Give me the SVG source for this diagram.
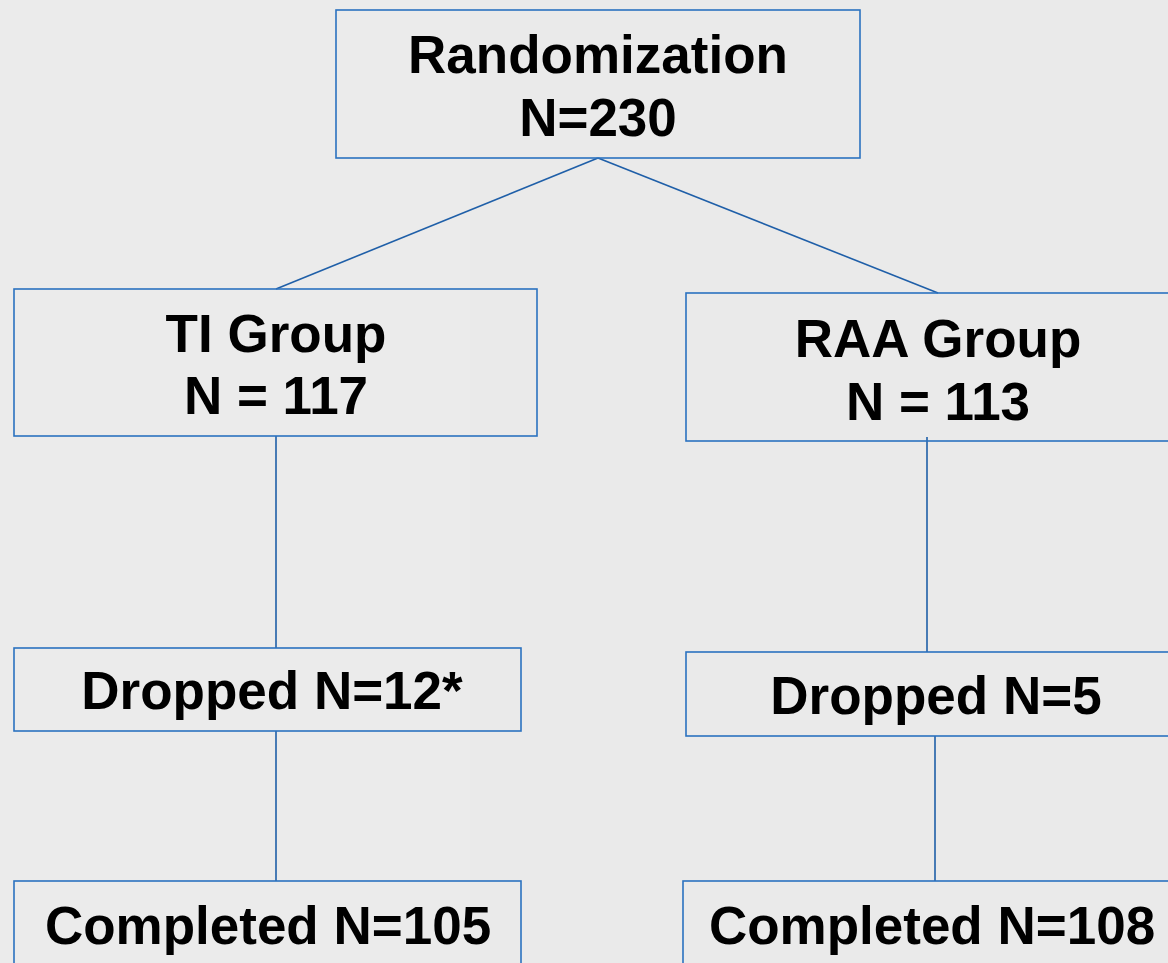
<svg xmlns="http://www.w3.org/2000/svg" width="1168" height="963" viewBox="0 0 1168 963">
<style>
.box{fill:none;stroke:#2b72c0;stroke-width:1.6}
.ln{fill:none;stroke:#1f5fa8;stroke-width:1.6}
.t{font-family:"Liberation Sans",Arial,sans-serif;font-weight:bold;font-size:53px;fill:#000;text-anchor:middle}
</style>
<rect x="0" y="0" width="1168" height="963" fill="#ebebeb"/>
<rect x="470" y="0" width="698" height="963" fill="#e9e9e9" opacity="0.6"/>
<g id="connectors">
<line class="ln" x1="598" y1="158" x2="276" y2="289"/>
<line class="ln" x1="598" y1="158" x2="938" y2="293"/>
<line class="ln" x1="276" y1="436" x2="276" y2="648"/>
<line class="ln" x1="276" y1="731" x2="276" y2="881"/>
<line class="ln" x1="927" y1="437" x2="927" y2="652"/>
<line class="ln" x1="935" y1="736" x2="935" y2="881"/>
</g>
<g id="randomization">
<rect class="box" x="336" y="10" width="524" height="148"/>
<text class="t" x="598" y="73">Randomization</text>
<text class="t" x="598" y="136">N=230</text>
</g>
<g id="ti-group">
<rect class="box" x="14" y="289" width="523" height="147"/>
<text class="t" x="276" y="352">TI Group</text>
<text class="t" x="276" y="414">N = 117</text>
</g>
<g id="raa-group">
<rect class="box" x="686" y="293" width="520" height="148"/>
<text class="t" x="938" y="357">RAA Group</text>
<text class="t" x="938" y="420">N = 113</text>
</g>
<g id="ti-dropped">
<rect class="box" x="14" y="648" width="507" height="83"/>
<text class="t" x="272" y="709">Dropped N=12*</text>
</g>
<g id="raa-dropped">
<rect class="box" x="686" y="652" width="520" height="84"/>
<text class="t" x="936" y="714">Dropped N=5</text>
</g>
<g id="ti-completed">
<rect class="box" x="14" y="881" width="507" height="120"/>
<text class="t" x="268" y="944">Completed N=105</text>
</g>
<g id="raa-completed">
<rect class="box" x="683" y="881" width="520" height="120"/>
<text class="t" x="932" y="944">Completed N=108</text>
</g>
</svg>
